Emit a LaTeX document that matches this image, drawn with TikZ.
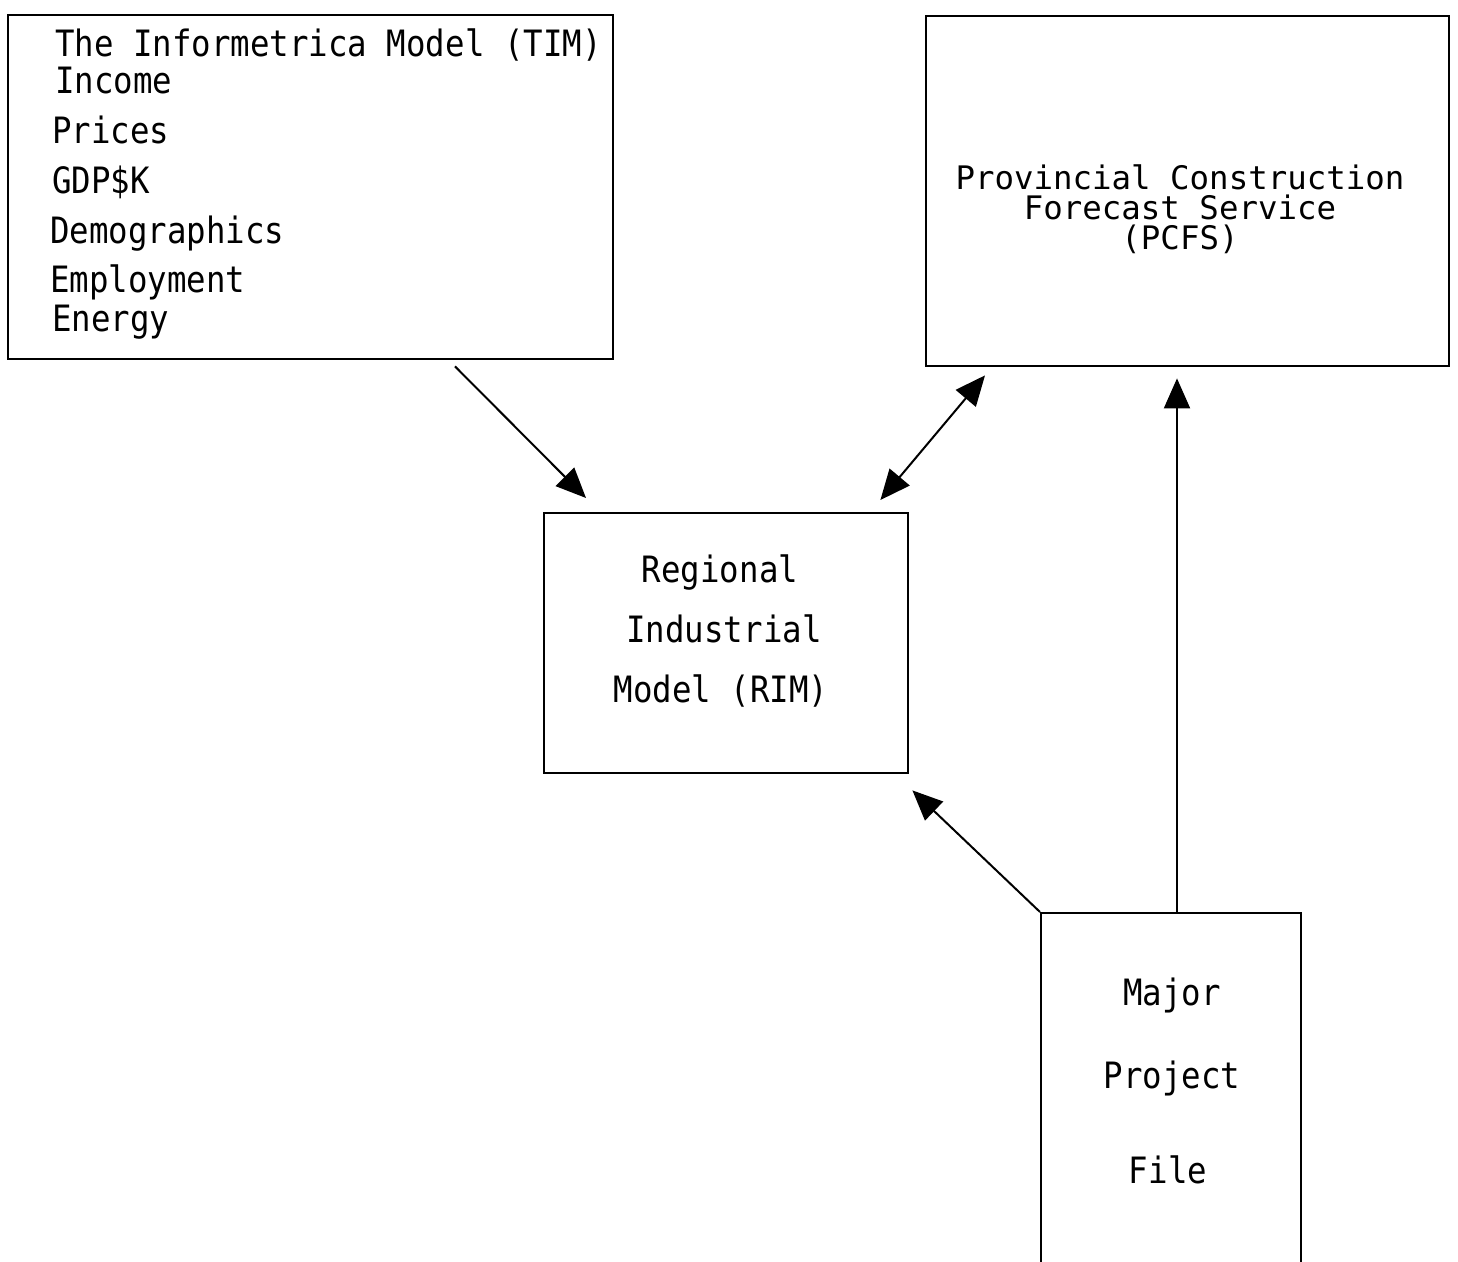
\documentclass[tikz,border=0pt]{standalone}
\usepackage{fontspec}
\setmonofont{DejaVu Sans Mono}
\usetikzlibrary{arrows.meta,calc}
\newcommand{\tall}[1]{\scalebox{1}[1.12]{#1}}
\begin{document}
\begin{tikzpicture}[x=0.5pt,y=-0.5pt,
  box/.style={draw,line width=1.2pt,inner sep=0pt,anchor=north west},
  lbl/.style={font=\ttfamily\fontsize{16.2}{20}\selectfont,inner sep=0pt},
  lline/.style={lbl,anchor=base west},
  cline/.style={lbl,anchor=base},
  conn/.style={line width=1pt,-{Triangle[length=15pt,width=13pt]}},
  dconn/.style={line width=1pt,{Triangle[length=15pt,width=13pt]}-{Triangle[length=15pt,width=13pt]}}
]
\useasboundingbox (0,0) rectangle (1458,1262);
\fill[white] (0,0) rectangle (1458,1262);

% boxes
\node[box,minimum width=302.5pt,minimum height=172pt] (tim) at (7,14) {};
\node[box,minimum width=261.5pt,minimum height=175pt] (pcfs) at (925,15) {};
\node[box,minimum width=182pt,minimum height=130pt] (rim) at (543,512) {};
\node[box,minimum width=130pt,minimum height=177pt] (mpf) at (1040,912) {};

% TIM text
\node[lline] (t1) at (55,57) {\tall{The Informetrica Model (TIM)}};
\node[lline] (t2) at (55,94) {\tall{Income}};
\node[lline] (t3) at (52,144) {\tall{Prices}};
\node[lline] (t4) at (52,194) {\tall{GDP\$K}};
\node[lline] (t5) at (50,244) {\tall{Demographics}};
\node[lline] (t6) at (50,293) {\tall{Employment}};
\node[lline] (t7) at (52,332) {\tall{Energy}};

% PCFS text
\node[lbl,align=center,anchor=base,font=\ttfamily\fontsize{16.2}{15}\selectfont] (ptext) at (1180,250)
  {Provincial Construction\\Forecast Service\\(PCFS)};

% RIM text
\node[cline] (r1) at (720,583) {\tall{Regional}};
\node[cline] (r2) at (724,643) {\tall{Industrial}};
\node[cline] (r3) at (721,703) {\tall{Model (RIM)}};

% MPF text
\node[cline] (m1) at (1172,1005) {\tall{Major}};
\node[cline] (m2) at (1172,1088) {\tall{Project}};
\node[cline] (m3) at (1168,1183) {\tall{File}};

% connectors
\draw[conn] ($(tim.south west)+(448,6)$) -- ($(rim.north west)+(43,-14)$);
\draw[dconn] ($(rim.north east)+(-29,-12)$) -- ($(pcfs.south west)+(60,8)$);
\draw[conn] (mpf.north west) -- ($(rim.south east)+(3,16)$);
\draw[conn] ($(mpf.north west)+(137,0)$) -- ($(pcfs.south west)+(252,11)$);
\end{tikzpicture}
\end{document}
